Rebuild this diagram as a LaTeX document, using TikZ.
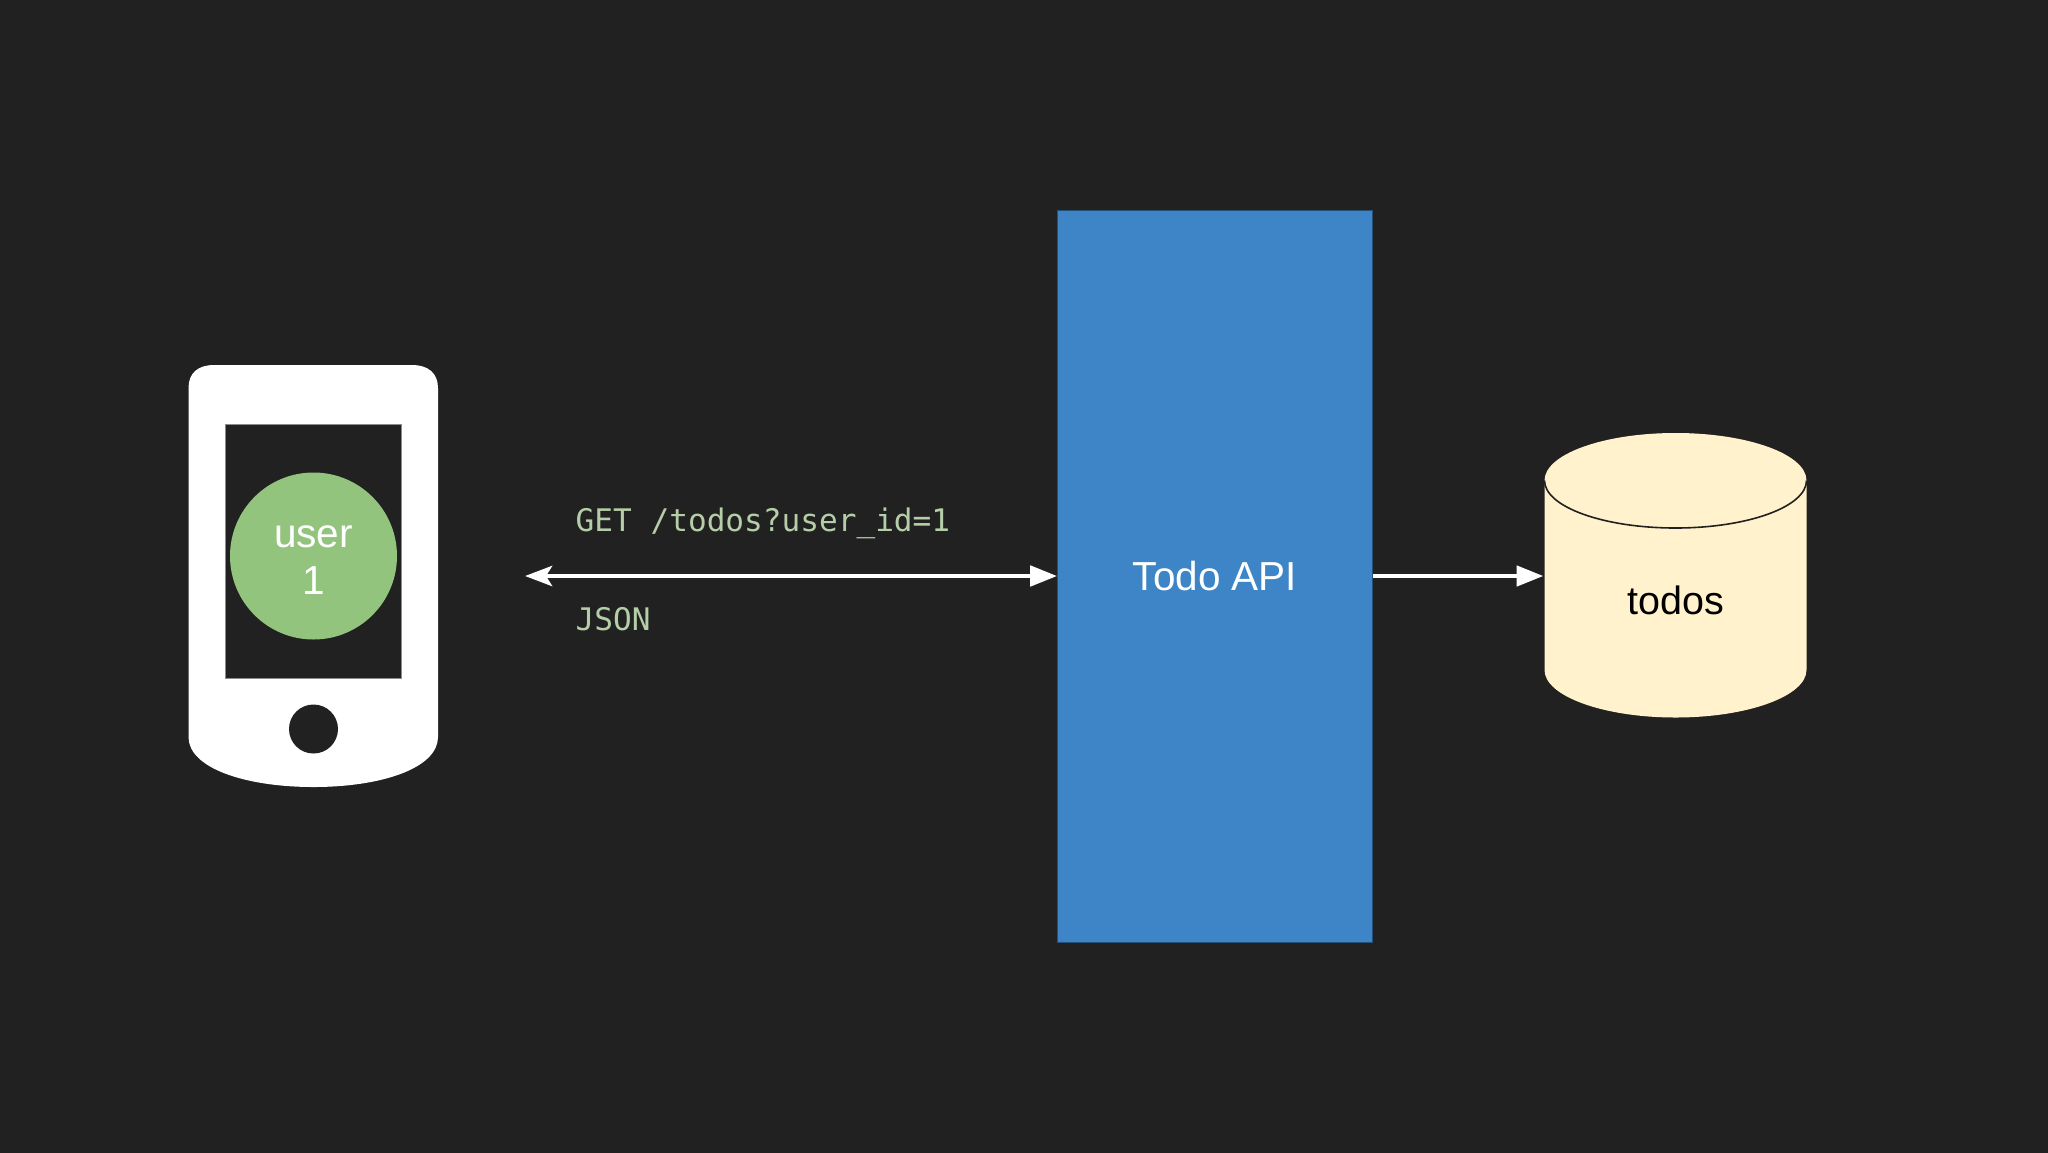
\documentclass[tikz,border=0pt]{standalone}
\usepackage{fontspec}
\setmainfont{Liberation Sans}
\newfontfamily\codefont{DejaVu Sans Mono}
\usetikzlibrary{arrows.meta}
\definecolor{bgc}{HTML}{212121}
\definecolor{apic}{HTML}{3D85C6}
\definecolor{greenc}{HTML}{93C47D}
\definecolor{dbc}{HTML}{FFF2CC}
\definecolor{codec}{HTML}{B5CEA8}
\tikzset{
  code/.style={anchor=base west,inner sep=0pt,text=codec,font=\codefont\fontsize{31.1}{36}\selectfont},
  link/.style={draw=white,line width=4.8pt},
  headR/.tip={Triangle[length=27pt,width=20pt]},
  headL/.tip={Stealth[length=27pt,width=20pt,inset=6pt]},
  sans/.style={inner sep=0pt,align=center,font=\fontsize{40.5}{47}\selectfont},
  sansdb/.style={inner sep=0pt,align=center,font=\fontsize{39.5}{47}\selectfont}
}
\begin{document}
\begin{tikzpicture}[x=1pt,y=-1pt]
\useasboundingbox (0,0) rectangle (2048,1152);
\fill[bgc] (-4,-4) rectangle (2052,1156);
% phone
\fill[white] (188.5,388) .. controls (188.5,373) and (198,365) .. (214,365)
  -- (412,365) .. controls (428,365) and (438,373) .. (438,388)
  -- (438,737) .. controls (438,768) and (382,787) .. (313.5,787)
  .. controls (245,787) and (188.5,768) .. (188.5,737) -- cycle;
\node[fill=bgc,draw=black!45!white,line width=0.6pt,inner sep=0pt,minimum width=176pt,minimum height=254pt] (screen) at (313.5,551.5) {};
\node[circle,fill=greenc,inner sep=0pt,minimum size=167pt] (user) at (313.5,556) {};
\node[sans,text=white,anchor=base] (userA) at (313.5,547.5) {user};
\node[sans,text=white,anchor=base] (userB) at (313.5,594) {1};
\node[circle,fill=bgc,inner sep=0pt,minimum size=49pt] (button) at (313.5,729) {};
% api
\node[rectangle,fill=apic,draw=black!40!apic,line width=0.6pt,inner sep=0pt,minimum width=315pt,minimum height=732pt] (api) at (1215,576) {};
\node[sans,text=white,anchor=base] (apiT) at (1215,590) {Todo API};
% database
\fill[dbc] (1544.5,480.5) -- (1806.5,480.5) -- (1806.5,670)
  .. controls (1806.5,696) and (1747.9,717.5) .. (1675.5,717.5)
  .. controls (1603.1,717.5) and (1544.5,696) .. (1544.5,670) -- cycle;
\fill[dbc] (1675.5,480.5) ellipse[x radius=131,y radius=47.5];
\draw[bgc,line width=1.6pt] (1544.5,480.5)
  .. controls (1544.5,506.7) and (1603.1,528) .. (1675.5,528)
  .. controls (1747.9,528) and (1806.5,506.7) .. (1806.5,480.5);
\node[sansdb,text=black,anchor=base] (todos) at (1675.5,614) {todos};
\coordinate (phoneEnd) at (525,576);
\coordinate (dbEnd) at (1543.5,576);
% connectors
\draw[link,{headL}-{headR}] (phoneEnd) -- (api.west);
\draw[link,-{headR}] (api.east) -- (dbEnd);
% labels
\node[code] (get) at (575.5,531.5) {GET /todos?user\_id=1};
\node[code] (json) at (575.5,630) {JSON};
\end{tikzpicture}
\end{document}
